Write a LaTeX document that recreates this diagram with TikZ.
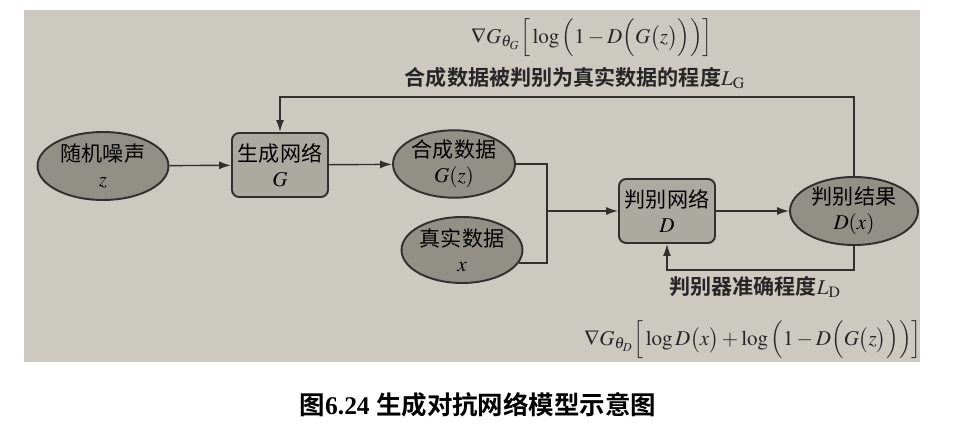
\documentclass[tikz,border=0pt]{standalone}
\usepackage{amsmath, amssymb}
\usepackage{mathptmx}
\usepackage{fontspec}
\setmainfont{Liberation Serif}
\newfontfamily\cjk[BoldFont={Noto Sans CJK SC Bold}]{Noto Sans CJK SC}
\usepackage{tikz}
\usetikzlibrary{shapes.geometric, arrows.meta}

\definecolor{pagegray}{RGB}{204,201,193}
\definecolor{ovalgray}{RGB}{146,143,135}
\definecolor{boxgray}{RGB}{172,169,161}
\definecolor{inkgray}{RGB}{50,48,45}

\begin{document}
\begin{tikzpicture}[x=0.02cm, y=-0.02cm,
    oval/.style={ellipse, draw=inkgray, line width=1.1pt, fill=ovalgray, inner sep=0pt, align=center, font=\fontsize{12}{14}\selectfont},
    netbox/.style={rectangle, rounded corners=4pt, draw=inkgray, line width=1.1pt, fill=boxgray, inner sep=0pt, align=center, font=\fontsize{12}{14}\selectfont},
    flow/.style={draw=inkgray, line width=0.8pt, -{Latex[length=2.4mm, width=1.6mm]}},
    link/.style={draw=inkgray, line width=0.8pt},
    lbl/.style={text=black!85, inner sep=0pt, font=\fontsize{12}{14}\selectfont}]
        \useasboundingbox (0,0) rectangle (961,429);
        \fill[pagegray] (24,10) rectangle (920,362);

        \node[oval, minimum width=2.62cm, minimum height=1.36cm] (noise) at (103,166) {{\cjk 随机噪声}\\$z$};
        \node[netbox, minimum width=1.92cm, minimum height=1.28cm] (gnet) at (280,165) {{\cjk 生成网络}\\$G$};
        \node[oval, minimum width=2.44cm, minimum height=1.32cm] (fake) at (454,164) {{\cjk 合成数据}\\$G(z)$};
        \node[oval, minimum width=2.42cm, minimum height=1.32cm] (real) at (462,250) {{\cjk 真实数据}\\$x$};
        \node[netbox, minimum width=1.92cm, minimum height=1.28cm] (dnet) at (667,211) {{\cjk 判别网络}\\$D$};
        \node[oval, minimum width=2.56cm, minimum height=1.36cm] (result) at (854,211) {{\cjk 判别结果}\\$D(x)$};

        \coordinate (join) at (547,211);
        \coordinate (topline) at (0,97);
        \coordinate (botline) at (0,270);

        \draw[flow] (noise) -- (gnet);
        \draw[flow] (gnet) -- (fake);
        \draw[link] (fake.east) -| (join);
        \draw[link] (real.-13) -| (join);
        \draw[flow] (join) -- (dnet);
        \draw[flow] (dnet) -- (result);
        \draw[flow] (result.north) -- (result.north |- topline) -| (gnet.north);
        \draw[flow] (result.south) -- (result.south |- botline) -| (dnet.south);

        \node[lbl] (gradg) at (592,38) {$\nabla G_{\theta_G}\Big[\log\Big(1-D\Big(G\big(z\big)\Big)\Big)\Big]$};
        \node[lbl] (lossg) at (575,78) {{\cjk\bfseries 合成数据被判别为真实数据的程度}$L_{\mathrm{G}}$};
        \node[lbl] (lossd) at (755,287) {{\cjk\bfseries 判别器准确程度}$L_{\mathrm{D}}$};
        \node[lbl] (gradd) at (753,340) {$\nabla G_{\theta_D}\Big[\log D\big(x\big)+\log\Big(1-D\Big(G\big(z\big)\Big)\Big)\Big]$};

        \node[font=\fontsize{14.5}{16}\selectfont\bfseries] (caption) at (478,405) {{\cjk 图}6.24 {\cjk 生成对抗网络模型示意图}};
\end{tikzpicture}
\end{document}
